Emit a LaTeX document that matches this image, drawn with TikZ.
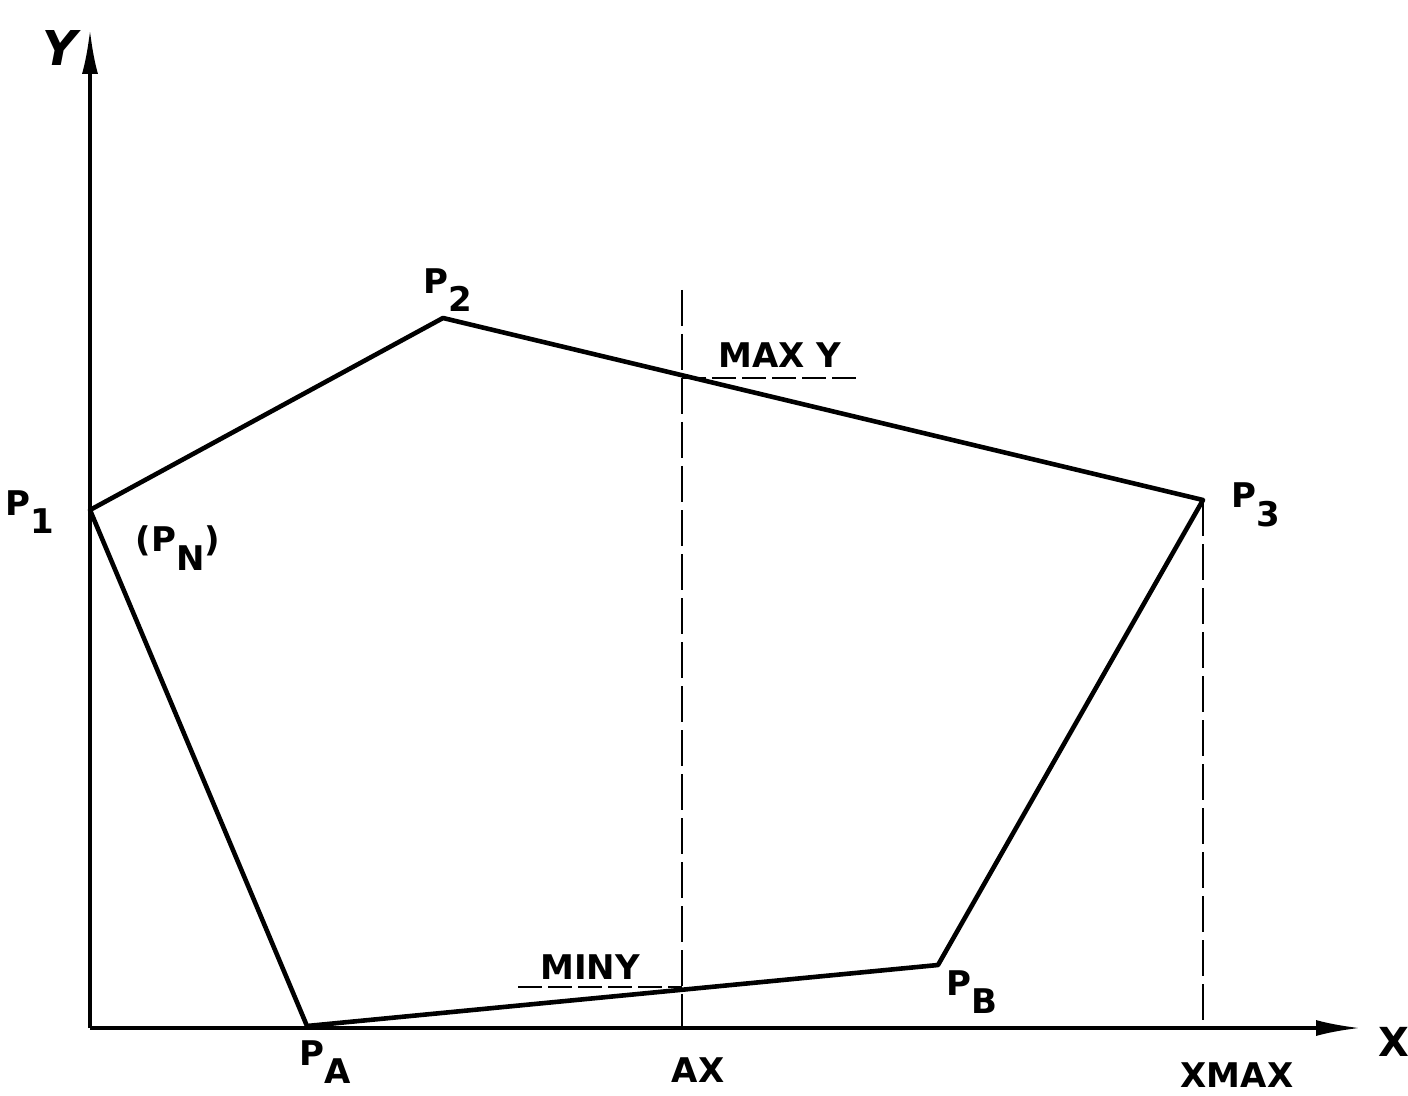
\documentclass[tikz,border=0pt]{standalone}
\usepackage{fontspec}
\setmainfont{DejaVu Sans}
\usetikzlibrary{arrows.meta}
\newcommand\lsub[1]{\raisebox{-0.55em}{#1}}
\begin{document}
\begin{tikzpicture}[x=0.5pt,y=-0.5pt,
  poly/.style={line width=2.3pt,line join=round},
  axis/.style={line width=1.6pt,-{Latex[length=22pt,width=8pt]}},
  vguide/.style={line width=1pt,dash pattern=on 18pt off 4pt},
  hguide/.style={line width=1pt,dash pattern=on 12pt off 3pt},
  lbl/.style={font=\bfseries\fontsize{17}{19}\selectfont,inner sep=0pt}]
\useasboundingbox (0,0) rectangle (1408,1096);
% axes
\coordinate (O) at (90,1028);
\coordinate (Ytop) at (90,30);
\coordinate (Xend) at (1360,1028);
\draw[axis] (O) -- (Ytop);
\draw[axis] (O) -- (Xend);
% vertices
\coordinate (P1) at (90,510);
\coordinate (P2) at (443,318);
\coordinate (P3) at (1203,500);
\coordinate (PB) at (938,965);
\coordinate (PA) at (307,1026);
\draw[poly] (P1) -- (P2) -- (P3) -- (PB) -- (PA) -- cycle;
% dashed guides
\coordinate (AXtop) at (682,290);
\coordinate (AXbot) at (682,1030);
\coordinate (XMbot) at (1203,1030);
\coordinate (MYl) at (682,378);
\coordinate (MYr) at (858,378);
\coordinate (MNl) at (518,987);
\coordinate (MNr) at (682,987);
\draw[vguide] (AXtop) -- (AXbot);
\draw[vguide] (P3) -- (XMbot);
\draw[hguide] (MYl) -- (MYr);
\draw[hguide] (MNl) -- (MNr);
% labels
\node[lbl,font=\bfseries\fontsize{24}{26}\selectfont\itshape] (ly) at (60,48) {Y};
\node[lbl,font=\bfseries\fontsize{20}{22}\selectfont] (lx) at (1394,1042) {X};
\node[lbl] (lp1) at (30,512) {P\lsub{1}};
\node[lbl] (lpn) at (178,548) {(P\lsub{N})};
\node[lbl] (lp2) at (448,290) {P\lsub{2}};
\node[lbl] (lmaxy) at (780,355) {MAX Y};
\node[lbl] (lp3) at (1256,505) {P\lsub{3}};
\node[lbl] (lminy) at (590,967) {MINY};
\node[lbl] (lpb) at (972,992) {P\lsub{B}};
\node[lbl] (lpa) at (325,1062) {P\lsub{A}};
\node[lbl] (lax) at (698,1070) {AX};
\node[lbl] (lxmax) at (1237,1075) {XMAX};
\end{tikzpicture}
\end{document}
